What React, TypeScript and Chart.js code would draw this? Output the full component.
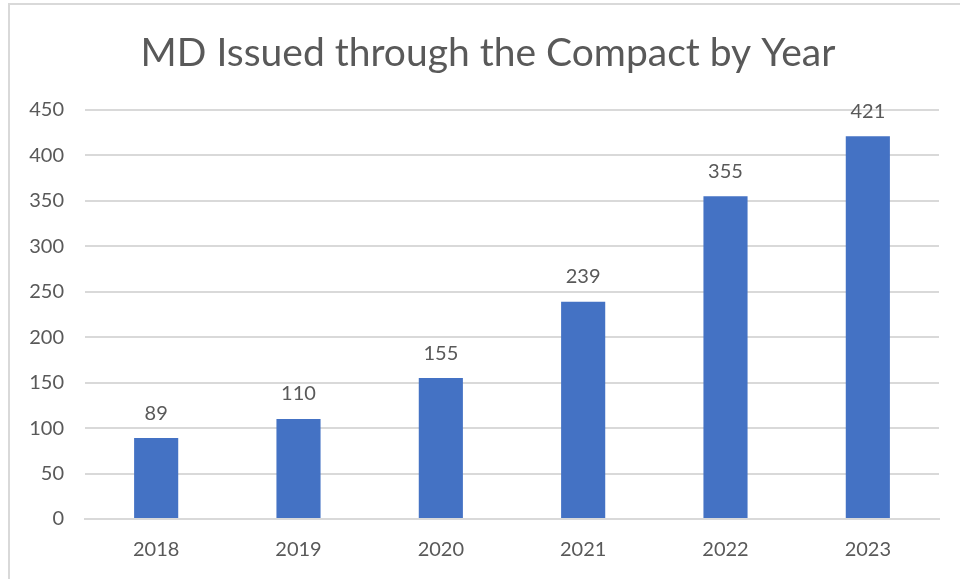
import React, { useEffect, useRef } from "react";
import { Chart, registerables } from "chart.js";

Chart.register(...registerables);

const categories: string[] = ["2018", "2019", "2020", "2021", "2022", "2023"];
const issued: number[] = [89, 110, 155, 239, 355, 421];
const titleText = "MD Issued through the Compact by Year";

const FONT = "Lato, 'Open Sans', sans-serif";
const TEXT = "#595959";

const labelPlugin = {
  id: "barLabels",
  afterDatasetsDraw(chart: any) {
    const { ctx } = chart;
    const meta = chart.getDatasetMeta(0);
    const data = chart.data.datasets[0].data as number[];
    ctx.save();
    ctx.font = `20px ${FONT}`;
    ctx.fillStyle = TEXT;
    ctx.textAlign = "center";
    ctx.textBaseline = "middle";
    meta.data.forEach((bar: any, i: number) => {
      ctx.fillText(String(data[i]), bar.x, bar.y - 25);
    });
    ctx.restore();
  },
};

const titlePlugin = {
  id: "customTitle",
  afterDraw(chart: any) {
    const { ctx } = chart;
    ctx.save();
    ctx.font = `39px ${FONT}`;
    ctx.fillStyle = TEXT;
    ctx.textAlign = "center";
    ctx.textBaseline = "middle";
    ctx.fillText(titleText, 488, 53);
    ctx.restore();
  },
};

export default function App() {
  const ref = useRef<HTMLCanvasElement | null>(null);
  useEffect(() => {
    if (!ref.current) return;
    const chart = new Chart(ref.current, {
      type: "bar",
      data: {
        labels: categories,
        datasets: [
          {
            data: issued,
            backgroundColor: "#4472C4",
            barPercentage: 0.62,
            categoryPercentage: 0.5,
          },
        ],
      },
      options: {
        animation: false,
        responsive: false,
        layout: { padding: { left: 0, right: 21, top: 110, bottom: 0 } },
        plugins: {
          legend: { display: false },
          tooltip: { enabled: false },
          title: { display: false },
        },
        scales: {
          x: {
            grid: { display: false, drawTicks: false },
            border: { display: true, color: "#d9d9d9", width: 2 },
            ticks: { color: TEXT, font: { family: FONT, size: 20 }, padding: 19 },
            afterFit: (s: any) => {
              s.height = 60;
            },
          },
          y: {
            min: 0,
            max: 450,
            ticks: { stepSize: 50, color: TEXT, font: { family: FONT, size: 20 }, padding: 21 },
            grid: { color: "#d9d9d9", lineWidth: 2, drawTicks: false },
            border: { display: false },
            afterFit: (s: any) => {
              s.width = 85;
            },
          },
        },
      },
      plugins: [labelPlugin, titlePlugin],
    });
    return () => chart.destroy();
  }, []);
  return (
    <div style={{ position: "fixed", left: 0, top: 0, width: 960, height: 579, background: "#fff", overflow: "hidden" }}>
      <div
        style={{
          position: "absolute",
          left: 8,
          top: 3,
          width: 1000,
          height: 700,
          borderLeft: "2px solid #d9d9d9",
          borderTop: "2px solid #d9d9d9",
        }}
      />
      <canvas ref={ref} width={960} height={579} style={{ position: "absolute", left: 0, top: 0 }} />
    </div>
  );
}
